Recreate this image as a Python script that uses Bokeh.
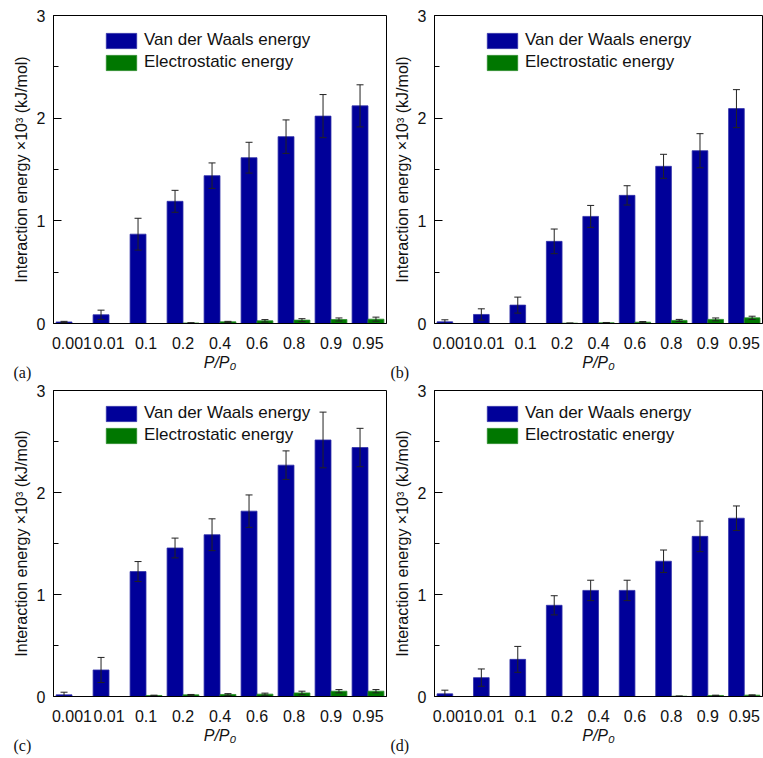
import math
from bokeh.plotting import figure
from bokeh.models import FactorRange, FixedTicker, ColumnDataSource, Title
from bokeh.transform import dodge
from bokeh.layouts import column, row
from bokeh.embed import file_html
from bokeh.resources import INLINE

categories = ["0.001", "0.01", "0.1", "0.2", "0.4", "0.6", "0.8", "0.9", "0.95"]
series_names = ["Van der Waals energy", "Electrostatic energy"]
panel_tags = ["(a)", "(b)", "(c)", "(d)"]

a_vdw = [0.015, 0.085, 0.87, 1.19, 1.44, 1.615, 1.82, 2.02, 2.12]
a_vdw_err = [0.006, 0.045, 0.155, 0.107, 0.124, 0.15, 0.163, 0.21, 0.205]
a_ele = [0.0, 0.0, 0.0, 0.005, 0.016, 0.026, 0.033, 0.039, 0.042]
a_ele_err = [0.0, 0.0, 0.0, 0.003, 0.005, 0.012, 0.014, 0.015, 0.02]

b_vdw = [0.016, 0.088, 0.179, 0.80, 1.043, 1.248, 1.531, 1.683, 2.093]
b_vdw_err = [0.02, 0.055, 0.078, 0.12, 0.107, 0.094, 0.117, 0.166, 0.185]
b_ele = [0.0, 0.0, 0.0, 0.003, 0.007, 0.013, 0.03, 0.04, 0.055]
b_ele_err = [0.0, 0.0, 0.0, 0.002, 0.003, 0.006, 0.01, 0.014, 0.016]

c_vdw = [0.016, 0.26, 1.225, 1.456, 1.586, 1.817, 2.268, 2.515, 2.441]
c_vdw_err = [0.026, 0.123, 0.098, 0.097, 0.156, 0.159, 0.14, 0.273, 0.188]
c_ele = [0.0, 0.0, 0.01, 0.016, 0.02, 0.023, 0.035, 0.052, 0.052]
c_ele_err = [0.0, 0.0, 0.003, 0.004, 0.008, 0.01, 0.017, 0.016, 0.016]

d_vdw = [0.026, 0.185, 0.364, 0.894, 1.04, 1.04, 1.326, 1.57, 1.748]
d_vdw_err = [0.036, 0.085, 0.127, 0.094, 0.1, 0.1, 0.11, 0.15, 0.12]
d_ele = [0.0, 0.0, 0.0, 0.0, 0.0, 0.0, 0.003, 0.01, 0.013]
d_ele_err = [0.0, 0.0, 0.0, 0.0, 0.0, 0.0, 0.002, 0.003, 0.003]

BLUE = "#000099"
GREEN = "#007700"
FONT = "Liberation Sans"


def bounds(vals, errs):
    lo = [v - e if e > 0 else math.nan for v, e in zip(vals, errs)]
    hi = [v + e if e > 0 else math.nan for v, e in zip(vals, errs)]
    return lo, hi


def make_panel(vdw, vdw_err, ele, ele_err, tag, width, height, bl, br, bt, bb, tag_off):
    vlo, vhi = bounds(vdw, vdw_err)
    elo, ehi = bounds(ele, ele_err)
    src = ColumnDataSource(dict(cat=categories, vdw=vdw, vlo=vlo, vhi=vhi,
                                ele=ele, elo=elo, ehi=ehi))
    p = figure(x_range=FactorRange(*categories), y_range=(0, 3),
               width=width, height=height, output_backend="svg",
               toolbar_location=None,
               min_border_left=bl, min_border_right=br,
               min_border_top=bt, min_border_bottom=bb)
    p.background_fill_color = "white"
    p.border_fill_color = "white"
    p.outline_line_color = "black"
    p.outline_line_width = 1
    p.xgrid.visible = False
    p.ygrid.visible = False

    xv = dodge("cat", -0.215, range=p.x_range)
    xe = dodge("cat", 0.215, range=p.x_range)
    p.vbar(x=xv, top="vdw", width=0.43, source=src, fill_color=BLUE,
           line_color="#3030a8", line_width=0.8, legend_label=series_names[0])
    p.vbar(x=xe, top="ele", width=0.43, source=src, fill_color=GREEN,
           line_color="#2a8a2a", line_width=0.8, legend_label=series_names[1])

    for xx, lo, hi in ((xv, "vlo", "vhi"), (xe, "elo", "ehi")):
        p.segment(x0=xx, y0=lo, x1=xx, y1=hi, source=src,
                  line_color="#222222", line_width=1)
        p.scatter(x=xx, y=hi, marker="dash", size=7, source=src,
                  line_color="#222222", line_width=1)
        p.scatter(x=xx, y=lo, marker="dash", size=7, source=src,
                  line_color="#222222", line_width=1)

    ya = p.yaxis[0]
    ya.ticker = FixedTicker(ticks=[0, 1, 2, 3], minor_ticks=[0.5, 1.5, 2.5])
    ya.major_tick_in = 8
    ya.major_tick_out = 0
    ya.minor_tick_in = 5
    ya.minor_tick_out = 0
    ya.major_tick_line_color = "black"
    ya.minor_tick_line_color = "black"
    ya.axis_line_color = "black"
    ya.major_label_text_font = FONT
    ya.major_label_text_font_size = "16px"
    ya.major_label_text_color = "#111111"
    ya.major_label_standoff = 8
    ya.axis_label = "Interaction energy ×10³ (kJ/mol)"
    ya.axis_label_text_font = FONT
    ya.axis_label_text_font_size = "16px"
    ya.axis_label_text_font_style = "normal"
    ya.axis_label_text_color = "#111111"
    ya.axis_label_standoff = 4

    xa = p.xaxis[0]
    xa.major_tick_in = 0
    xa.major_tick_out = 0
    xa.minor_tick_line_color = None
    xa.axis_line_color = "black"
    xa.major_label_text_font = FONT
    xa.major_label_text_font_size = "16px"
    xa.major_label_text_color = "#111111"
    xa.major_label_standoff = 13
    xa.axis_label = "P/P₀"
    xa.axis_label_text_font = FONT
    xa.axis_label_text_font_size = "16px"
    xa.axis_label_text_font_style = "italic"
    xa.axis_label_text_color = "#111111"
    xa.axis_label_standoff = 2

    lg = p.legend[0]
    lg.location = (49, 251)
    lg.glyph_width = 38
    lg.glyph_height = 19
    lg.label_text_font = FONT
    lg.label_text_font_size = "17px"
    lg.label_text_color = "#111111"
    lg.label_height = 19
    lg.spacing = 2
    lg.padding = 0
    lg.margin = 0
    lg.label_standoff = 4
    lg.border_line_alpha = 0
    lg.background_fill_alpha = 0

    p.add_layout(Title(text=tag, align="left", offset=tag_off, standoff=-20,
                       vertical_align="top",
                       text_font="Liberation Serif", text_font_size="16px",
                       text_font_style="normal", text_color="#111111"), "below")
    return p


pa = make_panel(a_vdw, a_vdw_err, a_ele, a_ele_err, panel_tags[0], 390, 384, 53, 4, 15, 61, -40)
pb = make_panel(b_vdw, b_vdw_err, b_ele, b_ele_err, panel_tags[1], 373, 384, 42, 1, 15, 61, -44)
pc = make_panel(c_vdw, c_vdw_err, c_ele, c_ele_err, panel_tags[2], 390, 373, 53, 4, 6, 61, -40)
pd = make_panel(d_vdw, d_vdw_err, d_ele, d_ele_err, panel_tags[3], 373, 373, 42, 1, 6, 61, -44)

layout = column(row(pa, pb), row(pc, pd))
open("out.html", "w").write(file_html(layout, INLINE))
